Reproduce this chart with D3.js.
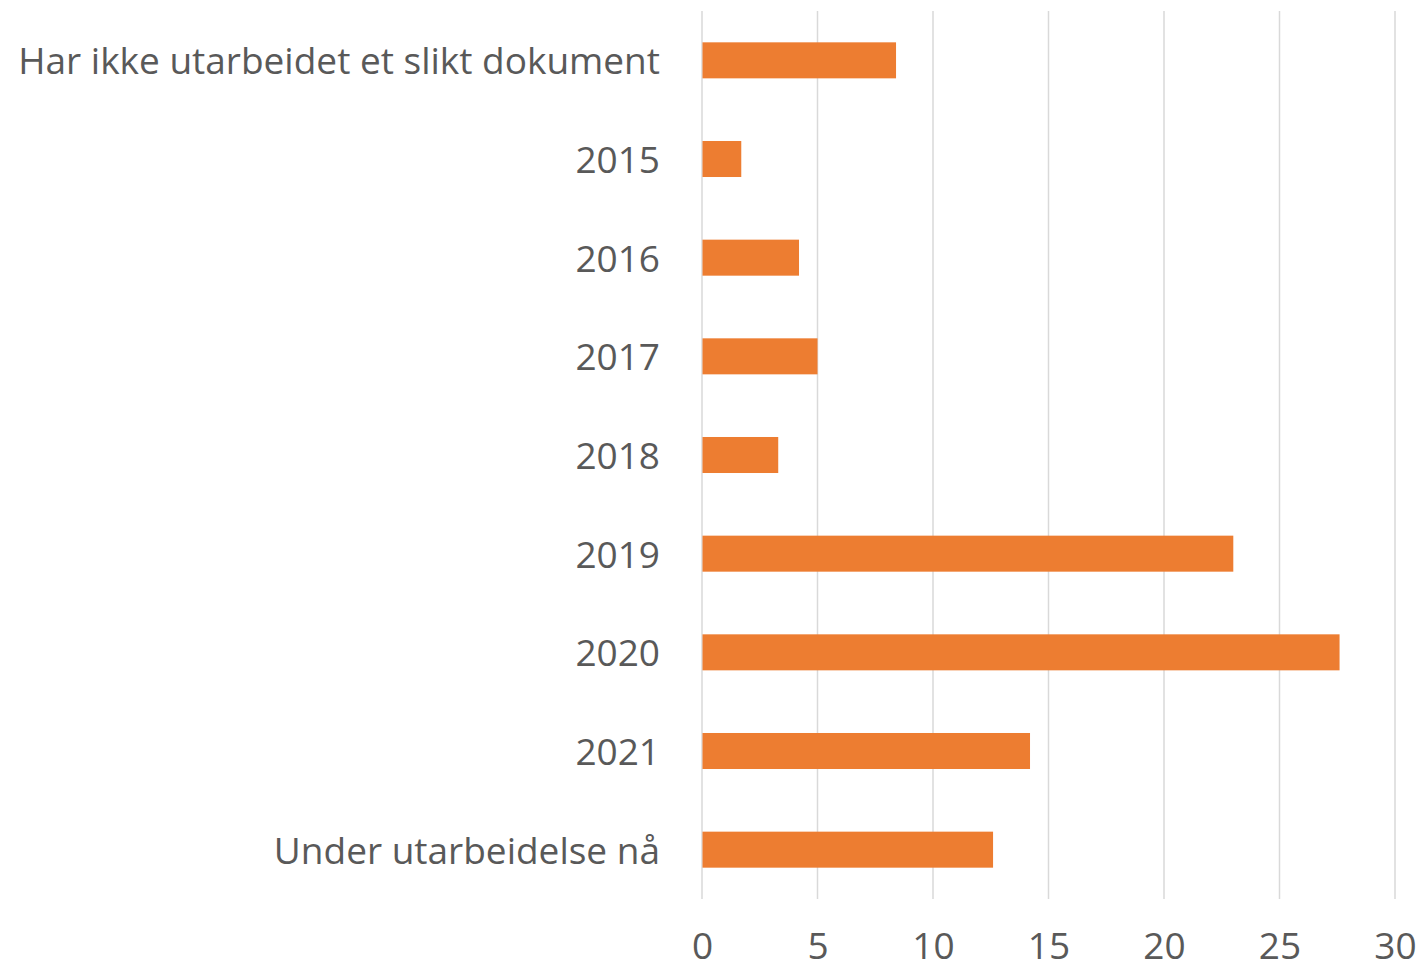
<!DOCTYPE html>
<html>
<head>
<meta charset="utf-8">
<script src="https://cdn.jsdelivr.net/npm/d3@7"></script>
<style>
  body { margin: 0; background: #fff; }
  svg text { font-family: "Open Sans", "Noto Sans", sans-serif; fill: #595959; }
</style>
</head>
<body>
<div id="chart"></div>
<script>
const categories = ["Har ikke utarbeidet et slikt dokument", "2015", "2016", "2017", "2018", "2019", "2020", "2021", "Under utarbeidelse nå"];
const values = [8.4, 1.7, 4.2, 5.0, 3.3, 23.0, 27.6, 14.2, 12.6];
const xTicks = [0, 5, 10, 15, 20, 25, 30];

const width = 1422, height = 971;
const margin = { top: 11, right: 27, bottom: 72, left: 702 };

const svg = d3.select("#chart")
  .append("svg")
  .attr("width", width)
  .attr("height", height);

const x = d3.scaleLinear()
  .domain([0, 30])
  .range([margin.left, width - margin.right]);

const y = d3.scaleBand()
  .domain(categories)
  .range([margin.top, height - margin.bottom])
  .paddingInner(0.635)
  .paddingOuter(0.3175);

// gridlines
svg.append("g")
  .selectAll("line")
  .data(xTicks)
  .join("line")
  .attr("x1", d => x(d))
  .attr("x2", d => x(d))
  .attr("y1", margin.top)
  .attr("y2", height - margin.bottom)
  .attr("stroke", "#d9d9d9")
  .attr("stroke-width", 1.5);

// bars
svg.append("g")
  .selectAll("rect")
  .data(values)
  .join("rect")
  .attr("x", x(0) + 0.5)
  .attr("y", (d, i) => y(categories[i]))
  .attr("width", d => x(d) - x(0) - 0.5)
  .attr("height", y.bandwidth())
  .attr("fill", "#ED7D31");

// category labels
const yAxis = svg.append("g")
  .attr("transform", `translate(${margin.left},2)`)
  .call(d3.axisLeft(y).tickSize(0).tickPadding(42));
yAxis.select(".domain").remove();
yAxis.selectAll("text")
  .attr("fill", "#595959")
  .style("font-size", "37px");

// value axis labels
const xAxis = svg.append("g")
  .attr("transform", `translate(0,${height - margin.bottom})`)
  .call(d3.axisBottom(x).tickValues(xTicks).tickSize(0).tickPadding(34));
xAxis.select(".domain").remove();
xAxis.selectAll("text")
  .attr("fill", "#595959")
  .style("font-size", "37px");
</script>
</body>
</html>
